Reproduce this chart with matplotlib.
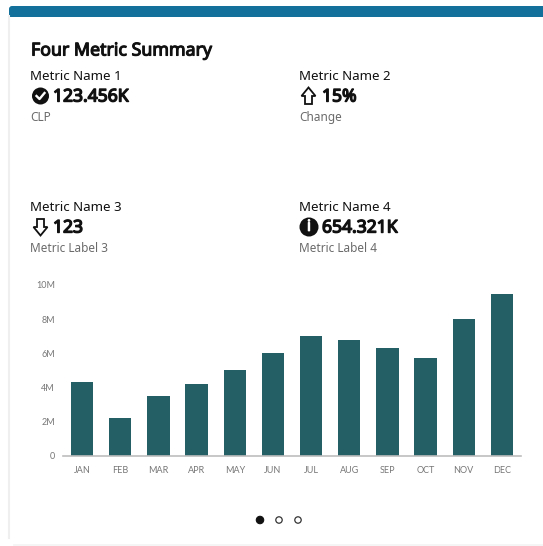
import matplotlib
matplotlib.use("Agg")
import matplotlib.pyplot as plt
import matplotlib.patheffects as pe
from matplotlib.patches import Circle, FancyBboxPatch, Polygon, Rectangle

W, H = 543, 546

months = ["JAN", "FEB", "MAR", "APR", "MAY", "JUN", "JUL", "AUG", "SEP", "OCT", "NOV", "DEC"]
values = [4.3, 2.2, 3.5, 4.2, 5.0, 6.0, 7.0, 6.8, 6.3, 5.7, 8.0, 9.5]
y_ticks = [0, 2, 4, 6, 8, 10]
y_labels = ["0", "2M", "4M", "6M", "8M", "10M"]

metric_names = ["Metric Name 1", "Metric Name 2", "Metric Name 3", "Metric Name 4"]
metric_values = ["123.456K", "15%", "123", "654.321K"]
metric_labels = ["CLP", "Change", "Metric Label 3", "Metric Label 4"]

BAR = "#245F66"
HEADER = "#13709A"
INK = "#111111"
GREY = "#6B6B6B"

plt.rcParams["font.family"] = ["Noto Sans", "DejaVu Sans"]
fig = plt.figure(figsize=(W / 100, H / 100), dpi=100, facecolor="white")

# page overlay in pixel coordinates, y pointing down
page = fig.add_axes([0, 0, 1, 1])
page.set_xlim(0, W)
page.set_ylim(H, 0)
page.axis("off")

# card edge and header bar
page.plot([9, 9], [16, 538], color="#EFEFEF", lw=1.5)
page.plot([14, W], [544.5, 544.5], color="#F3F3F3", lw=1.2)
page.add_patch(FancyBboxPatch((9, 6), W, 11, boxstyle="round,pad=0,rounding_size=3",
                              fc=HEADER, ec="none"))
page.add_patch(Rectangle((9, 11), W, 5.5, fc=HEADER, ec="none"))

page.text(31, 50.5, "Four Metric Summary", fontsize=12.8, color=INK, va="center",
          path_effects=[pe.withStroke(linewidth=0.8, foreground=INK)])


def check_icon(x, y):
    page.add_patch(Circle((x, y), 8.5, fc=INK, ec="none"))
    page.plot([x - 4, x - 1, x + 4], [y, y + 3, y - 3], color="white", lw=1.7)


def up_icon(x, y):
    pts = [(x, y - 8.5), (x + 7, y), (x + 3.5, y), (x + 3.5, y + 8), (x - 3.5, y + 8), (x - 3.5, y), (x - 7, y)]
    page.add_patch(Polygon(pts, closed=True, fc="white", ec=INK, lw=1.3))


def down_icon(x, y):
    pts = [(x, y + 8.5), (x + 7, y), (x + 3.5, y), (x + 3.5, y - 8), (x - 3.5, y - 8), (x - 3.5, y), (x - 7, y)]
    page.add_patch(Polygon(pts, closed=True, fc="white", ec=INK, lw=1.3))


def info_icon(x, y):
    page.add_patch(Circle((x, y), 9.5, fc=INK, ec="none"))
    page.text(x, y + 0.3, "i", color="white", fontsize=11, ha="center", va="center",
              path_effects=[pe.withStroke(linewidth=0.8, foreground="white")])


# metric blocks: left edge, top row y
blocks = [(30, 76.5, check_icon, 40.5, 53), (299, 76.5, up_icon, 308.5, 322),
          (30, 207.5, down_icon, 40.5, 53), (299, 207.5, info_icon, 309, 322)]
for (x, y, icon, ix, vx), name, val, lab in zip(blocks, metric_names, metric_values, metric_labels):
    page.text(x, y, name, fontsize=9.6, color=INK, va="center")
    icon(ix, y + 19.5)
    page.text(vx, y + 20, val, fontsize=12.6, color=INK, va="center",
              path_effects=[pe.withStroke(linewidth=1.0, foreground=INK)])
    page.text(x, y + 41, lab, fontsize=8.5, color=GREY, va="center")

# pager dots
page.add_patch(Circle((260, 520), 3.7, fc=INK, ec=INK, lw=0.8))
page.add_patch(Circle((279, 520), 3.2, fc="white", ec="#333333", lw=0.9))
page.add_patch(Circle((298, 520), 3.2, fc="white", ec="#333333", lw=0.9))

# bar chart
left, right, top, base = 63, 521, 285, 455.5
ax = fig.add_axes([left / W, 1 - base / H, (right - left) / W, (base - top) / H])
ax.patch.set_alpha(0)
ax.bar(range(len(months)), values, width=0.585, color=BAR)
ax.set_xlim(-0.5, 11.5)
ax.set_ylim(0, 10)
ax.set_xticks(range(len(months)), months)
ax.set_yticks(y_ticks, y_labels)
ax.tick_params(length=0, labelsize=6.5, labelcolor="#777777")
ax.tick_params(axis="x", pad=7.5)
ax.tick_params(axis="y", pad=5.8)
for s in ["top", "right", "left"]:
    ax.spines[s].set_visible(False)
ax.spines["bottom"].set_color("#BDBDBD")
ax.spines["bottom"].set_linewidth(1.2)
for t in ax.get_xticklabels() + ax.get_yticklabels():
    t.set_family(["Lato", "DejaVu Sans"])

fig.savefig("out.png", dpi=100)
